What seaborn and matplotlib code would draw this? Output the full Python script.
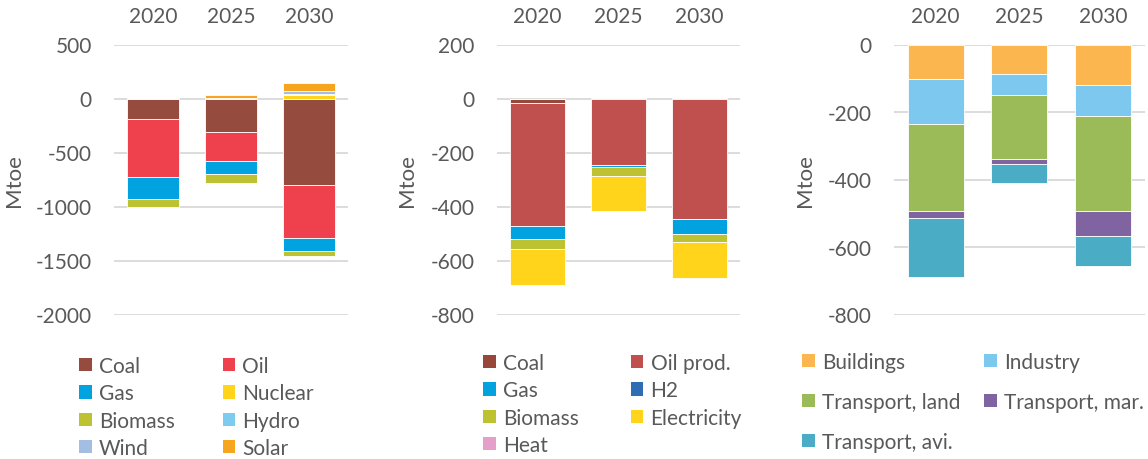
import numpy as np
import seaborn as sns
import matplotlib.pyplot as plt
from matplotlib.patches import Patch

years = ["2020", "2025", "2030"]

# panel 1 - by fuel
p1_names = ["Coal", "Oil", "Gas", "Nuclear", "Biomass", "Hydro", "Wind", "Solar"]
p1_colors = ["#954B3D", "#EF404E", "#00A3E0", "#FFD41A", "#BDC233", "#7DCBEF", "#A4BDE3", "#F7A51E"]
p1_coal = [-192, -306, -803]
p1_oil = [-538, -275, -485]
p1_gas = [-204, -120, -127]
p1_nuclear = [0, 5, 34]
p1_biomass = [-71, -77, -46]
p1_hydro = [0, -10, 8]
p1_wind = [3, -6, 23]
p1_solar = [0, 23, 77]

# panel 2 - by product
p2_names = ["Coal", "Oil prod.", "Gas", "H2", "Biomass", "Electricity", "Heat"]
p2_colors = ["#97483B", "#C0504D", "#00A3E0", "#2E6DB4", "#BDC233", "#FFD41A", "#E4A0C8"]
p2_coal = [-17, 0, 0]
p2_oil = [-457, -245, -448]
p2_gas = [-48, -10, -52]
p2_h2 = [0, 3, 3]
p2_biomass = [-36, -33, -31]
p2_elec = [-132, -128, -132]
p2_heat = [0, 0, 0]

# panel 3 - by sector
p3_names = ["Buildings", "Industry", "Transport, land", "Transport, mar.", "Transport, avi."]
p3_colors = ["#FBB650", "#7CC8EE", "#9BBB59", "#8064A2", "#4BACC6"]
p3_build = [-101, -88, -119]
p3_industry = [-134, -61, -92]
p3_land = [-259, -189, -282]
p3_mar = [-19, -15, -75]
p3_avi = [-175, -56, -88]

sns.set_theme(style="whitegrid")
plt.rcParams["font.family"] = ["Lato", "DejaVu Sans"]
plt.rcParams["axes.unicode_minus"] = False
txt = "#595959"

fig = plt.figure(figsize=(11.48, 4.6), dpi=100)
W, H = 1148, 460


def stacked(ax, series, colors):
    pos = np.zeros(len(years))
    neg = np.zeros(len(years))
    for vals, col in zip(series, colors):
        vals = np.array(vals, dtype=float)
        bottom = np.where(vals >= 0, pos, neg)
        sns.barplot(x=years, y=vals, bottom=bottom, color=col, saturation=1,
                    width=0.67, errorbar=None, ax=ax,
                    linewidth=0.6, edgecolor="white")
        pos += np.clip(vals, 0, None)
        neg += np.clip(vals, None, 0)


def style(ax, ylim, step, label_x):
    ax.set_ylim(*ylim)
    ax.set_yticks(np.arange(ylim[0], ylim[1] + 1, step))
    ax.set_xlim(-0.5, 2.5)
    ax.xaxis.tick_top()
    ax.tick_params(axis="x", length=0, pad=13, labelsize=15, labelcolor=txt)
    ax.tick_params(axis="y", length=0, pad=16, labelsize=15, labelcolor=txt)
    ax.grid(axis="y", color="#D9D9D9", linewidth=1.3)
    ax.grid(axis="x", visible=False)
    ax.set_axisbelow(True)
    for s in ax.spines.values():
        s.set_visible(False)
    ax.set_xlabel("")
    ax.set_ylabel("Mtoe", fontsize=16, color=txt)
    ax.yaxis.set_label_coords(label_x, 0.5)


def row_major(items):
    # legend fills columns first; reorder so entries read across rows
    return items[0::2] + items[1::2]


top, bottom = 45.5, 315.5
panels = [
    (114, 348, [p1_coal, p1_oil, p1_gas, p1_nuclear, p1_biomass, p1_hydro, p1_wind, p1_solar],
     p1_colors, p1_names, (-2000, 500), 500),
    (497, 740, [p2_coal, p2_oil, p2_gas, p2_h2, p2_biomass, p2_elec, p2_heat],
     p2_colors, p2_names, (-800, 200), 200),
    (894, 1144.5, [p3_build, p3_industry, p3_land, p3_mar, p3_avi],
     p3_colors, p3_names, (-800, 0), 200),
]
# right edge of the rotated "Mtoe" label, in pixels
label_px = [24, 417, 815]
legend_pos = [(79, 357, 0.35, 2.3), (483, 354, 0.35, 2.5), (802, 353, 0.95, 1.15)]

for (x0, x1, series, colors, names, ylim, step), lx, (lgx, lgy, lsp, csp) in zip(panels, label_px, legend_pos):
    ax = fig.add_axes([x0 / W, 1 - bottom / H, (x1 - x0) / W, (bottom - top) / H])
    stacked(ax, series, colors)
    style(ax, ylim, step, -(x0 - lx) / (x1 - x0))
    handles = [Patch(facecolor=c, edgecolor="none") for c in colors]
    fig.legend(row_major(handles), row_major(list(names)), loc="upper left",
               bbox_to_anchor=(lgx / W, 1 - lgy / H),
               ncol=2, frameon=False, fontsize=15, labelcolor=txt,
               handlelength=0.6, handleheight=0.6, handletextpad=0.35,
               labelspacing=lsp, columnspacing=csp, borderpad=0, borderaxespad=0)

fig.savefig("out.png", dpi=100)
